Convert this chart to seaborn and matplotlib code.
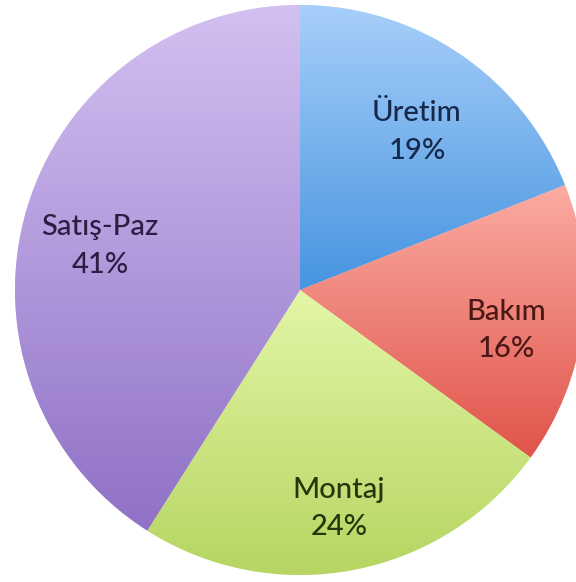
import matplotlib
matplotlib.use("Agg")
import matplotlib.pyplot as plt
import seaborn as sns
import numpy as np
from matplotlib.colors import LinearSegmentedColormap

# Données
categories = ["Üretim", "Bakım", "Montaj", "Satış-Paz"]
values = [19, 16, 24, 41]

# Couleurs (haut / bas du dégradé) et couleur du texte
top_colors = ["#a8cffa", "#fbaca2", "#e3f6a6", "#d4c0f1"]
bottom_colors = ["#4694e0", "#e0534a", "#b6d562", "#8f71c6"]
text_colors = ["#17294a", "#4a1816", "#26360c", "#2c1e42"]

sns.set_theme(style="white")
plt.rcParams["font.family"] = ["Lato", "DejaVu Sans"]

fig = plt.figure(figsize=(5.76, 5.82), dpi=100)
ax = fig.add_axes([0, 0, 1, 1])

wedges, texts, autotexts = ax.pie(
    values, startangle=90, counterclock=False, radius=1.0,
    colors=[sns.blend_palette([t, b], 3)[1] for t, b in zip(top_colors, bottom_colors)],
    autopct="%.0f%%", pctdistance=0.73,
    wedgeprops=dict(edgecolor=(1, 1, 1, 0.6), linewidth=0.8),
)

# Dégradé vertical dans chaque part (clair en haut, foncé en bas)
grad = np.linspace(0, 1, 256).reshape(-1, 1)
for w, t, b in zip(wedges, top_colors, bottom_colors):
    bb = w.get_path().get_extents()
    cmap = LinearSegmentedColormap.from_list("g", [t, b])
    im = ax.imshow(grad, cmap=cmap, aspect="auto",
                   extent=[bb.x0, bb.x1, bb.y0, bb.y1], origin="upper", zorder=1.5)
    im.set_clip_path(w)

for txt, name, col in zip(autotexts, categories, text_colors):
    x, y = txt.get_position()
    txt.set_position((x, y - 0.05))
    txt.set_text(name + "\n" + txt.get_text())
    txt.set_color(col)
    txt.set_fontsize(21)
    txt.set_fontweight("medium")
    txt.set_linespacing(1.55)
    txt.set_zorder(3)

# Position du camembert dans l'image
ax.set_xlim(-300 / 285, 276 / 285)
ax.set_ylim(-292 / 285, 290 / 285)
ax.set_aspect("auto")
ax.axis("off")

fig.savefig("out.png", dpi=100)
